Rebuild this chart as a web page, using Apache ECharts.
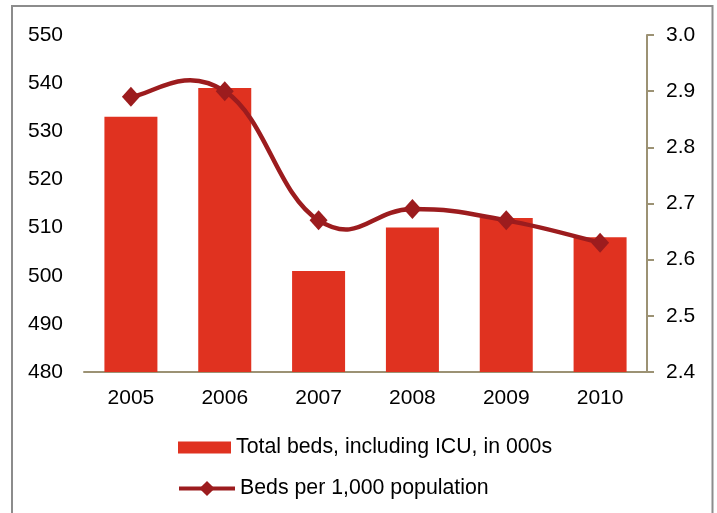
<!DOCTYPE html>
<html><head><meta charset="utf-8">
<script src="https://cdn.jsdelivr.net/npm/echarts@6/dist/echarts.min.js"></script>
<style>html,body{margin:0;padding:0;background:#fff}#c{width:717px;height:513px}</style>
</head><body><div id="c"></div>
<script>
const categories = ['2005','2006','2007','2008','2009','2010'];
const totalBeds = [533, 539, 501, 510, 512, 508];
const bedsPer1000 = [2.89, 2.90, 2.67, 2.69, 2.67, 2.63];
const barName = 'Total beds, including ICU, in 000s';
const lineName = 'Beds per 1,000 population';

const chart = echarts.init(document.getElementById('c'), null, {renderer:'canvas'});
const font = 'Liberation Sans, Arial, sans-serif';
const axisCol = '#9C9274';
const lineCol = '#9C1C1E';
const K = 0.22; // Excel-like smoothing tension

function smoothPath(api){
  const p = bedsPer1000.map((v,j)=>api.coord([j, v]));
  const n = p.length;
  let d = 'M' + p[0][0] + ' ' + p[0][1];
  for (let i=0;i<n-1;i++){
    const p0 = p[Math.max(i-1,0)], p1 = p[i], p2 = p[i+1], p3 = p[Math.min(i+2,n-1)];
    const c1 = [p1[0] + (p2[0]-p0[0])*K, p1[1] + (p2[1]-p0[1])*K];
    const c2 = [p2[0] - (p3[0]-p1[0])*K, p2[1] - (p3[1]-p1[1])*K];
    d += ' C' + c1[0]+' '+c1[1]+' '+c2[0]+' '+c2[1]+' '+p2[0]+' '+p2[1];
  }
  return d;
}

chart.setOption({
  animation:false,
  textStyle:{fontFamily:font},
  graphic:[{type:'rect',shape:{x:12,y:6,width:700.5,height:520},style:{fill:'none',stroke:'#8c8c8c',lineWidth:2},silent:true}],
  grid:{left:84,right:70,top:35,bottom:141},
  legend:[
    {data:[{name:barName,icon:'rect'}],left:178,top:437,padding:0,orient:'vertical',itemWidth:53,itemHeight:12,
     textStyle:{fontSize:21.3,color:'#000',fontFamily:font}},
    {data:[lineName],left:177,top:478,padding:0,orient:'vertical',itemWidth:56,itemHeight:19,
     lineStyle:{width:4,color:lineCol,opacity:1},itemStyle:{color:lineCol},
     textStyle:{fontSize:21.3,color:'#000',fontFamily:font}}
  ],
  xAxis:{type:'category',data:categories,
    axisLine:{lineStyle:{color:axisCol,width:2}},axisTick:{show:false},
    axisLabel:{fontSize:21,color:'#000',margin:16,fontFamily:font}},
  yAxis:[
    {type:'value',min:480,max:550,interval:10,splitLine:{show:false},
     axisLine:{show:false},axisTick:{show:false},
     axisLabel:{fontSize:21,color:'#000',margin:21,fontFamily:font}},
    {type:'value',min:2.4,max:3.0,interval:0.1,position:'right',splitLine:{show:false},
     axisLine:{show:true,lineStyle:{color:axisCol,width:2}},
     axisTick:{show:true,inside:false,length:7,lineStyle:{color:axisCol,width:2}},
     axisLabel:{fontSize:21,color:'#000',margin:19,fontFamily:font,formatter:v=>v.toFixed(1)}}
  ],
  series:[
    {name:barName,type:'bar',data:totalBeds,barWidth:53,itemStyle:{color:'#E03220'},z:1},
    {type:'custom',yAxisIndex:1,data:bedsPer1000.map((v,i)=>[i,v]),z:2,silent:true,
     renderItem:(params,api)=>{
       if(params.dataIndex!==0) return null;
       return {type:'path',shape:{pathData:smoothPath(api)},
         style:{fill:'none',stroke:lineCol,lineWidth:4.5}};
     }},
    {name:lineName,type:'line',yAxisIndex:1,data:bedsPer1000,
     lineStyle:{color:lineCol,width:0,opacity:0},itemStyle:{color:lineCol},
     symbol:'diamond',symbolSize:[18,20],z:3}
  ]
});
</script></body></html>
